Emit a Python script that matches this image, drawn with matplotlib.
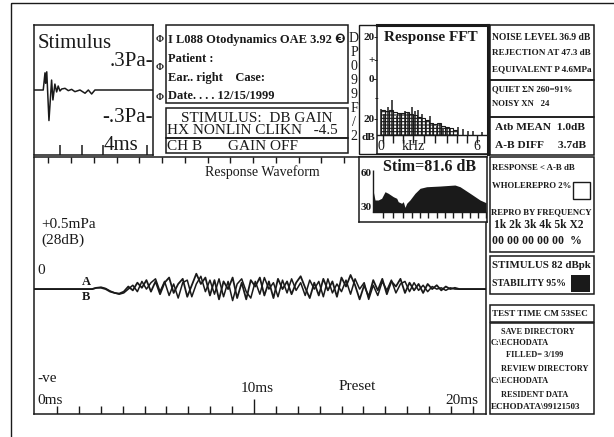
import numpy as np
import matplotlib.pyplot as plt
from matplotlib.patches import Rectangle

plt.rcParams['font.family'] = ['Liberation Serif', 'DejaVu Sans']
plt.rcParams['hatch.linewidth'] = 0.8

W, H = 614, 437
INK = '#1a1a1a'

# stimulus click (ms, Pa)
stim_t = [0.0, 0.42, 0.50, 0.53, 0.58, 0.68, 0.80, 0.86, 0.95, 1.03, 1.10, 1.18,
          1.26, 1.41, 1.56, 1.71, 1.86, 2.09, 2.32, 2.47, 2.62, 2.77, 5.41]
stim_pa = [0.0, 0.0, 0.185, 0.072, 0.196, -0.329, 0.107, -0.107, 0.064, -0.021,
           0.043, -0.011, 0.011, 0.018, -0.007, 0.007, -0.018, 0.0, -0.035, 0.0,
           -0.043, 0.0, 0.0]

# response waveform, buffers A and B (mPa), sampled 2.6 .. 19.8 ms
wave_a = [0.00, 0.01, 0.01, 0.00, -0.02, -0.03, -0.035, -0.02, 0.02, -0.01,
          0.05, 0.01, 0.07, -0.02, 0.06, -0.04, 0.05, 0.09, -0.03, 0.04,
          0.08, -0.06, 0.03, 0.12, 0.04, 0.09, -0.05, 0.07, -0.08, 0.06,
          0.00, 0.09, -0.07, 0.05, -0.08, 0.07, 0.02, 0.09, -0.05, 0.06,
          -0.07, 0.08, 0.00, 0.06, -0.04, 0.05, 0.10, 0.01, -0.07, 0.05,
          -0.05, 0.08, -0.01, 0.06, -0.06, 0.09, 0.02, 0.11, 0.03, -0.08,
          0.03, -0.06, 0.07, -0.01, 0.08, -0.04, 0.06, 0.02, 0.08, -0.03,
          0.05, -0.01, 0.04, -0.03, 0.04, 0.00, 0.03, -0.01, 0.02, 0.00,
          0.01, 0.00, 0.00, 0.00]
wave_b = [0.00, 0.01, 0.015, 0.005, -0.015, -0.03, -0.04, -0.03, 0.00, 0.03,
          -0.02, 0.06, 0.00, 0.05, 0.08, -0.02, 0.06, -0.05, 0.04, -0.07,
          0.05, 0.07, -0.06, 0.04, 0.10, -0.02, 0.07, -0.04, 0.08, -0.06,
          0.06, -0.09, 0.04, 0.08, -0.02, -0.07, 0.06, -0.04, 0.09, 0.00,
          0.05, -0.06, 0.07, -0.03, 0.08, -0.01, 0.05, -0.05, 0.07, 0.00,
          0.06, -0.06, 0.08, -0.03, 0.04, -0.02, 0.07, -0.04, 0.08, 0.00,
          0.05, -0.08, 0.03, -0.05, 0.06, -0.01, 0.07, -0.03, 0.04, 0.06,
          -0.02, 0.05, -0.01, 0.03, -0.02, 0.02, 0.00, 0.01, -0.01, 0.01,
          0.00, 0.00, 0.00, 0.00]

# response FFT: noise bins (hatched) and response lines, kHz / dB
fft_noise_khz = [0.125, 0.375, 0.625, 0.875, 1.125, 1.375, 1.625, 1.875, 2.125, 2.375,
                 2.625, 2.875, 3.125, 3.375, 3.625, 3.875, 4.125, 4.375, 4.625]
fft_noise_db = [-14.5, -15, -14.5, -15.5, -16, -16, -15.5, -16.5, -17, -18,
                -18.5, -19.5, -21, -21.5, -21, -22.5, -23, -23.5, -24]
fft_resp_khz = [0.0, 0.21, 0.42, 0.71, 0.98, 1.19, 1.5, 1.71, 1.92, 2.13, 2.33, 2.54,
                2.81, 3.06, 3.27, 3.48, 3.69, 3.9, 4.1, 4.31, 4.83, 5.15, 5.46, 5.77, 6.3]
fft_resp_db = [-14.1, -16.5, -13.0, -9.8, -17.3, -16.5, -14.9, -15.7, -13.3, -14.9,
               -14.6, -16.5, -19.8, -17.3, -21.0, -22.2, -21.4, -23.8, -23.0, -23.8,
               -23.0, -23.8, -24.6, -24.9, -25.4]
fft_ticks_khz = [0.1, 0.75, 1.4, 2.0, 2.7, 3.4, 4.1, 4.75, 5.4, 6.0]

# stimulus spectrum, kHz / dB
spec_khz = [0.0, 0.02, 0.11, 0.28, 0.46, 0.64, 0.81, 1.08, 1.26, 1.34, 1.52, 1.61,
            1.70, 1.79, 1.96, 2.23, 2.50, 2.85, 3.56, 4.35, 4.62, 5.15, 5.68, 6.0]
spec_db = [25.6, 43.5, 36.2, 36.2, 37.7, 43.5, 42.1, 39.1, 37.7, 34.7, 33.3, 34.7,
           29.7, 33.3, 36.2, 42.1, 46.5, 47.9, 48.5, 49.4, 47.9, 42.1, 36.2, 33.8]
spec_ticks_khz = [0.53, 1.06, 1.59, 2.07, 2.5, 2.92, 3.4, 3.82, 4.25, 4.73, 5.15, 5.58, 6.0]

fig = plt.figure(figsize=(W / 100, H / 100), dpi=100)
ax = fig.add_axes([0, 0, 1, 1], zorder=5)
ax.set_xlim(0, W)
ax.set_ylim(H, 0)
ax.axis('off')


def inset(x0, y0, x1, y1, lw=1.1):
    a = fig.add_axes([x0 / W, 1 - y1 / H, (x1 - x0) / W, (y1 - y0) / H])
    a.set_xticks([])
    a.set_yticks([])
    for s in a.spines.values():
        s.set_linewidth(lw)
        s.set_color(INK)
    return a


def box(x0, y0, x1, y1, lw=1.1, **kw):
    ax.add_patch(Rectangle((x0, y0), x1 - x0, y1 - y0, fill=False, lw=lw, ec=INK, **kw))


def put(x, y, s, size, bold=False, ha='left', va='center'):
    ax.text(x, y, s, fontsize=size, fontweight='bold' if bold else 'normal',
            ha=ha, va=va, color=INK)


# outer frame
box(11, 3, 620, 445, lw=1.0)

# stimulus panel
sa = inset(34, 25, 153, 155)
sa.set_xlim(0, 5.41)
sa.set_ylim(-0.7, 0.7)
sa.plot(stim_t, stim_pa, color=INK, lw=1.1)
sa.vlines([1.18, 2.17, 3.15, 5.12], -0.7, -0.59, color=INK, lw=1.1)
put(38, 43, 'Stimulus', 15)
put(153, 62, '.3Pa-', 15, ha='right')
put(153, 118, '-.3Pa-', 15, ha='right')
put(104, 146, '4ms', 15)

# small markers
for yy in [40, 68, 97]:
    put(160, yy, 'Φ', 7, bold=True, ha='center')

# info box
box(166, 25, 348, 103)
put(168, 40, 'I L088 Otodynamics OAE 3.92 ❸', 9, bold=True)
put(168, 59, 'Patient :', 9, bold=True)
put(168, 78, 'Ear.. right    Case:', 9, bold=True)
put(168, 96, 'Date. . . . 12/15/1999', 9, bold=True)
box(166, 108, 348, 138)
box(166, 138, 348, 153)
put(257, 118, 'STIMULUS:  DB GAIN', 11, ha='center')
put(167, 131, 'HX NONLIN CLIKN   -4.5', 11)
put(167, 146, 'CH B', 11)
put(228, 146, 'GAIN OFF', 11)

# vertical id
for ch, yy in zip('DP099F/2', [39, 53, 67, 81, 95, 109, 123, 137]):
    put(354, yy, ch, 10, ha='center')

# response FFT
box(359, 25, 488, 154, lw=1.0)
fa = inset(377, 25, 488, 154)
fa.spines['top'].set_linewidth(2.2)
fa.spines['right'].set_linewidth(2.2)
fa.set_xlim(-0.25, 6.69)
fa.set_ylim(-35.7, 26.0)
fft_base = -26.5
fa.bar(fft_noise_khz, np.array(fft_noise_db) - fft_base, bottom=fft_base, width=0.25,
       fill=False, hatch='-----', lw=0.8, ec=INK)
fa.vlines(fft_resp_khz, fft_base, fft_resp_db, color=INK, lw=1.1)
fa.axhline(fft_base, color=INK, lw=1.0)
fa.vlines(fft_ticks_khz, fft_base - 4, fft_base, color=INK, lw=1.0)
put(384, 37, 'Response FFT', 11, bold=True)
for lab, yy in [('20-', 37), ('+-', 60), ('0-', 79), ('-', 99), ('20-', 120)]:
    put(378, yy, lab, 8, bold=True, ha='right')
put(361, 138, 'dB', 8, bold=True)
put(381, 147, '0', 10, ha='center')
put(413, 147, 'kHz', 10, ha='center')
put(477, 147, '6', 10, ha='center')

# right column, upper
box(490, 25, 594, 80)
box(490, 80, 594, 117)
box(490, 117, 594, 155)
put(492, 37, 'NOISE LEVEL 36.9 dB', 6.9, bold=True)
put(492, 53, 'REJECTION AT 47.3 dB', 6.6, bold=True)
put(492, 69, 'EQUIVALENT P 4.6MPa', 6.6, bold=True)
put(492, 89, 'QUIET ΣN 260=91%', 6.3, bold=True)
put(492, 104, 'NOISY XN   24', 6.3, bold=True)
put(495, 128, 'Atb MEAN  1.0dB', 8.2, bold=True)
put(495, 145, 'A-B DIFF     3.7dB', 8.2, bold=True)

# response waveform
wa = inset(34, 157, 486, 414)
wa.set_facecolor('none')
wa.set_xlim(-0.05, 20.6)
wa.set_ylim(-0.975, 1.031)
for wave, lw in [(wave_b, 1.1), (wave_a, 1.3)]:
    t = np.concatenate([[-0.05], np.linspace(2.6, 19.8, len(wave)), [20.6]])
    v = np.concatenate([[0.0], wave, [0.0]])
    wa.plot(t, v, color=INK, lw=lw)
xt = wa.get_xaxis_transform()
wa.vlines([m for m in range(1, 21) if m != 10], 0, 8 / 257, color=INK, lw=1.0, transform=xt)
wa.vlines([10], 0, 15 / 257, color=INK, lw=1.0, transform=xt)
wa.vlines(np.arange(0.6, 20.5, 1.04), 1 - 6 / 257, 1, color=INK, lw=1.0, transform=xt)
put(262, 172, 'Response Waveform', 10, ha='center')
put(41, 225, '+0.5mPa', 11)
put(41, 240, '(28dB)', 11)
put(37, 271, '0', 11)
put(86, 282, 'A', 9, bold=True, ha='center')
put(86, 297, 'B', 9, bold=True, ha='center')
put(37, 378, '-ve', 11)
put(37, 401, '0ms', 11)
put(257, 389, '10ms', 11, ha='center')
put(357, 387, 'Preset', 11, ha='center')
put(478, 401, '20ms', 11, ha='right')

# stimulus spectrum inset
xa = inset(359, 157, 487, 222, lw=1.1)
xa.set_facecolor('white')
xa.set_xlim(-0.74, 6.05)
xa.set_ylim(16.8, 74.1)
spec_base = 25.6
xa.fill_between(spec_khz, spec_base, spec_db, color=INK, lw=0)
xa.plot([0, 6.05], [spec_base, spec_base], color=INK, lw=1.0)
xa.vlines(spec_ticks_khz, spec_base - 5.3, spec_base, color=INK, lw=1.0)
xa.vlines([0], spec_base, 63, color=INK, lw=1.0)
put(430, 167, 'Stim=81.6 dB', 11.5, bold=True, ha='center')
put(366, 173, '60', 8, bold=True, ha='center')
put(366, 207, '30', 8, bold=True, ha='center')

# right column, lower
box(490, 157, 594, 252)
put(492, 168, 'RESPONSE < A-B dB', 6.3, bold=True)
put(492, 186, 'WHOLEREPRO 2%', 6.3, bold=True)
box(573, 182, 590, 199, lw=1.0)
put(541, 212, 'REPRO BY FREQUENCY', 6.2, bold=True, ha='center')
put(539, 225, '1k 2k 3k 4k 5k X2', 8.3, bold=True, ha='center')
put(492, 241, '00 00 00 00 00  %', 8.5, bold=True)
box(490, 256, 594, 294)
put(492, 265, 'STIMULUS 82 dBpk', 7.8, bold=True)
put(492, 284, 'STABILITY 95%', 7.0, bold=True)
ax.add_patch(Rectangle((571, 275), 19, 17, color=INK, lw=0))
box(490, 305, 594, 322)
put(492, 313.5, 'TEST TIME CM 53SEC', 6.6, bold=True)
box(490, 323, 594, 414)
put(501, 332, 'SAVE DIRECTORY', 6.0, bold=True)
put(491, 343, 'C:\\ECHODATA', 6.0, bold=True)
put(506, 355, 'FILLED= 3/199', 6.0, bold=True)
put(501, 369, 'REVIEW DIRECTORY', 6.0, bold=True)
put(491, 381, 'C:\\ECHODATA', 6.0, bold=True)
put(501, 395, 'RESIDENT DATA', 6.0, bold=True)
put(491, 407, 'ECHODATA\\99121503', 6.5, bold=True)

fig.savefig('out.png', dpi=100)
